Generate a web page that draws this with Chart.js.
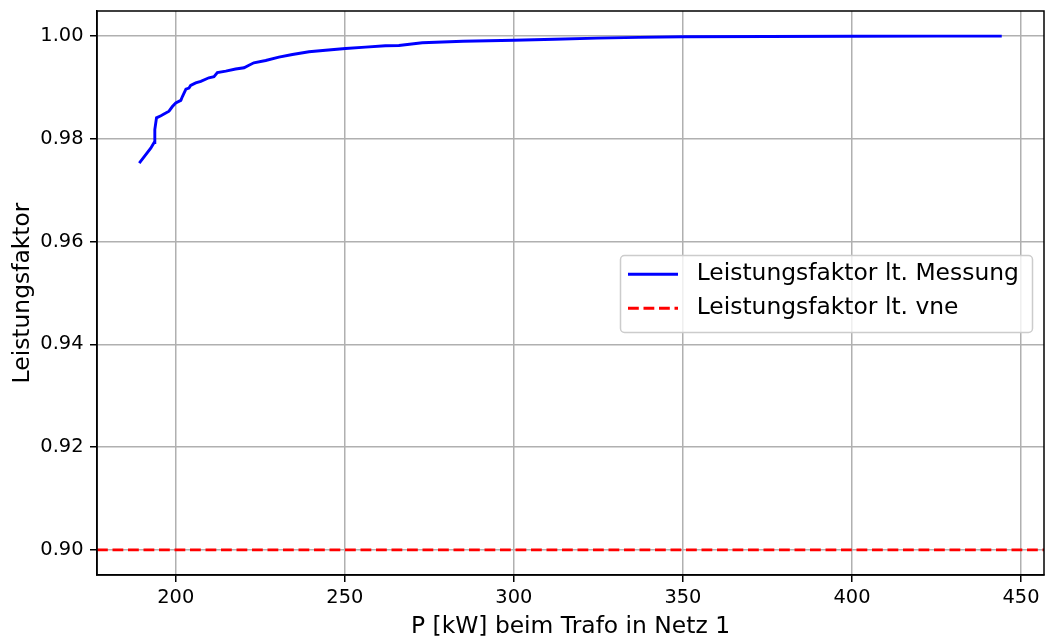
<!DOCTYPE html>
<html>
<head>
<meta charset="utf-8">
<script src="https://cdn.jsdelivr.net/npm/chart.js@4.4.1/dist/chart.umd.min.js"></script>
<style>
  html, body { margin: 0; padding: 0; background: #fff; }
  canvas { display: block; }
</style>
</head>
<body>
<canvas id="chart" width="1045" height="637"></canvas>
<script>
// Leistung am Trafo (kW) und gemessener Leistungsfaktor
const powerKw = [189.2, 192.6, 193.6, 193.8, 194.3, 195.6, 198.0, 199.0, 200.0, 201.5,
    202.0, 203.0, 203.9, 204.4, 205.9, 207.4, 209.8, 211.3, 212.3, 214.8,
    217.7, 220.2, 221.5, 223.1, 226.6, 230.5, 234.5, 239.4, 244.3, 250.2,
    256.1, 262.0, 266.0, 272.9, 285.0, 300.0, 312.0, 324.6, 337.0, 350.0,
    375.0, 400.0, 425.0, 444.3];
const pfMeasured = [0.9753, 0.9782, 0.9793, 0.9818, 0.9841, 0.9845, 0.9854, 0.9863, 0.9870, 0.9875,
    0.9883, 0.9897, 0.9899, 0.9904, 0.9909, 0.9912, 0.9919, 0.9921, 0.9929, 0.9932,
    0.9936, 0.99385, 0.9943, 0.99482, 0.99527, 0.99591, 0.99644, 0.99696, 0.99727, 0.99760,
    0.99786, 0.99813, 0.99819, 0.99871, 0.9990, 0.99922, 0.9994, 0.99961, 0.99976, 0.99988,
    0.99995, 0.99998, 1.0000, 1.0000];
const pfVne = 0.90;

const xLimits = [176.7, 456.8];
const yLimits = [0.8951, 1.0049];
const xTicks = [200, 250, 300, 350, 400, 450];
const yTicks = [0.90, 0.92, 0.94, 0.96, 0.98, 1.00];

const seriesLabels = ['Leistungsfaktor lt. Messung', 'Leistungsfaktor lt. vne'];

Chart.defaults.font.family = '"DejaVu Sans", sans-serif';
Chart.defaults.color = '#000';

// Rahmen um die Zeichenfläche (wie matplotlib spines)
const framePlugin = {
    id: 'frame',
    afterDatasetsDraw(chart) {
        const {ctx, chartArea: a} = chart;
        ctx.save();
        ctx.strokeStyle = '#000';
        ctx.lineWidth = 1.5;
        ctx.strokeRect(a.left, a.top, a.right - a.left, a.bottom - a.top);
        ctx.restore();
    }
};

// Legende innerhalb der Achsen
const legendPlugin = {
    id: 'innerLegend',
    afterDraw(chart) {
        const ctx = chart.ctx;
        const box = {x: 620.5, y: 255.5, w: 412, h: 77};
        ctx.save();
        ctx.beginPath();
        ctx.roundRect(box.x, box.y, box.w, box.h, 4);
        ctx.fillStyle = 'rgba(255,255,255,0.8)';
        ctx.fill();
        ctx.strokeStyle = '#cccccc';
        ctx.lineWidth = 1.5;
        ctx.stroke();

        const rows = [274.3, 308.3];
        chart.data.datasets.forEach((ds, i) => {
            ctx.beginPath();
            ctx.strokeStyle = ds.borderColor;
            ctx.lineWidth = ds.borderWidth;
            ctx.setLineDash(ds.borderDash || []);
            ctx.moveTo(628, rows[i]);
            ctx.lineTo(678, rows[i]);
            ctx.stroke();
            ctx.setLineDash([]);
            ctx.fillStyle = '#000';
            ctx.font = '23.4px "DejaVu Sans"';
            ctx.textBaseline = 'middle';
            ctx.textAlign = 'left';
            ctx.fillText(ds.label, 696.7, rows[i]);
        });
        ctx.restore();
    }
};

const ctx = document.getElementById('chart').getContext('2d');

new Chart(ctx, {
    type: 'line',
    data: {
        datasets: [{
            label: seriesLabels[0],
            data: powerKw.map((p, i) => ({x: p, y: pfMeasured[i]})),
            borderColor: '#0000ff',
            borderWidth: 2.9,
            pointRadius: 0,
            tension: 0
        }, {
            label: seriesLabels[1],
            data: xLimits.map(p => ({x: p, y: pfVne})),
            borderColor: '#ff0000',
            borderWidth: 2.9,
            borderDash: [10.8, 4.7],
            pointRadius: 0,
            tension: 0
        }]
    },
    options: {
        responsive: false,
        animation: false,
        layout: {padding: {top: 11, right: 1, left: 0, bottom: 0}},
        plugins: {
            legend: {display: false},
            tooltip: {enabled: false}
        },
        scales: {
            x: {
                type: 'linear',
                min: xLimits[0],
                max: xLimits[1],
                afterBuildTicks: axis => { axis.ticks = xTicks.map(v => ({value: v})); },
                afterFit: axis => {
                    axis.height = 62;
                    axis.paddingLeft = 0;
                    axis.paddingRight = 0;
                },
                ticks: {
                    font: {size: 19.4},
                    padding: 4,
                    maxRotation: 0,
                    callback: v => String(v)
                },
                grid: {
                    color: '#b0b0b0',
                    lineWidth: 1.5,
                    tickColor: '#000',
                    tickLength: 7,
                    tickWidth: 1.5
                },
                border: {display: true, color: '#000', width: 1.5},
                title: {
                    display: true,
                    text: 'P [kW] beim Trafo in Netz 1',
                    font: {size: 23.4, lineHeight: 1},
                    padding: {top: 0, bottom: -2}
                }
            },
            y: {
                type: 'linear',
                min: yLimits[0],
                max: yLimits[1],
                afterBuildTicks: axis => { axis.ticks = yTicks.map(v => ({value: v})); },
                afterFit: axis => {
                    axis.width = 97;
                    axis.paddingTop = 0;
                    axis.paddingBottom = 0;
                },
                ticks: {
                    font: {size: 19.4},
                    padding: 6.5,
                    callback: v => v.toFixed(2)
                },
                grid: {
                    color: '#b0b0b0',
                    lineWidth: 1.5,
                    tickColor: '#000',
                    tickLength: 7,
                    tickWidth: 1.5
                },
                border: {display: true, color: '#000', width: 1.5},
                title: {
                    display: true,
                    text: 'Leistungsfaktor',
                    font: {size: 23.4, lineHeight: 1},
                    padding: {top: 11, bottom: 0}
                }
            }
        }
    },
    plugins: [framePlugin, legendPlugin]
});
</script>
</body>
</html>
